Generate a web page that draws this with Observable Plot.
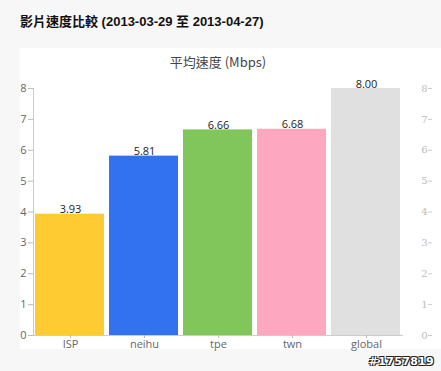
<!DOCTYPE html>
<html><head><meta charset="utf-8">
<script src="https://cdn.jsdelivr.net/npm/d3@7"></script>
<script src="https://cdn.jsdelivr.net/npm/@observablehq/plot@0.6"></script>
<style>
html,body{margin:0;padding:0;}
body{width:441px;height:371px;background:#f7f7f7;position:relative;overflow:hidden;font-family:"Open Sans","Noto Sans",sans-serif;}
#title{position:absolute;left:20px;top:11px;font-family:"Liberation Sans","Noto Sans CJK TC",sans-serif;font-weight:bold;font-size:13px;color:#111;white-space:nowrap;}
#panel{position:absolute;left:20px;top:48px;width:421px;height:301px;background:#fff;}
#sub{position:absolute;left:0;width:396px;top:4px;text-align:center;font-family:"Noto Sans CJK TC","Open Sans",sans-serif;font-size:13px;color:#444;}
#mark{position:absolute;right:7px;bottom:3px;font-family:"DejaVu Sans",sans-serif;font-weight:bold;font-size:11px;letter-spacing:0.3px;color:#fff;text-shadow:-1px -1px 0 #222,1px -1px 0 #222,-1px 1px 0 #222,1px 1px 0 #222;}
</style></head>
<body>
<div id="title">影片速度比較 (2013-03-29 至 2013-04-27)</div>
<div id="panel"><div id="sub">平均速度 (Mbps)</div></div>
<div id="mark">#1757819</div>
<script>
const categories = ["ISP", "neihu", "tpe", "twn", "global"];
const values = [3.93, 5.81, 6.66, 6.68, 8.00];
const colors = ["#fecb32", "#3272f0", "#80c65a", "#fea7c1", "#e0e0e0"];
const yTicks = [0, 1, 2, 3, 4, 5, 6, 7, 8];

const data = categories.map((c, i) => ({cat: c, value: values[i], color: colors[i]}));

const chart = Plot.plot({
  width: 421,
  height: 301,
  marginLeft: 13,
  marginRight: 38,
  marginTop: 40,
  marginBottom: 14,
  style: {background: "transparent", fontFamily: "'Open Sans', sans-serif", overflow: "visible"},
  x: {domain: categories, padding: 0},
  y: {domain: [0, 8]},
  marks: [
    Plot.barY(data, {x: "cat", y: "value", fill: "color", insetLeft: 2, insetRight: 3}),
    Plot.text(data, {x: "cat", y: "value", text: d => d.value.toFixed(2), lineAnchor: "bottom", dy: -1, fontSize: 11, fill: "#222"}),
    Plot.ruleY([0], {stroke: "#ccc"}),
    Plot.frame({anchor: "left", stroke: "#ccc"}),
    Plot.axisY({ticks: yTicks, tickFormat: d => d, tickSize: 5, tickPadding: 2, fontSize: 11, fill: "#666", stroke: "#bbb", label: null}),
    Plot.axisY({anchor: "left", ticks: yTicks, tickFormat: d => d, dx: 399, tickSize: 4, tickPadding: 1, fontSize: 10, fontFamily: "'DejaVu Serif', serif", fill: "#bbb", stroke: "#ccc", label: null}),
    Plot.axisX({tickSize: 3, tickPadding: 2, fontSize: 11, fill: "#666", stroke: "#bbb", label: null})
  ]
});
chart.style.position = "absolute";
chart.style.left = "0";
chart.style.top = "0";
document.getElementById("panel").appendChild(chart);
</script>
</body></html>
